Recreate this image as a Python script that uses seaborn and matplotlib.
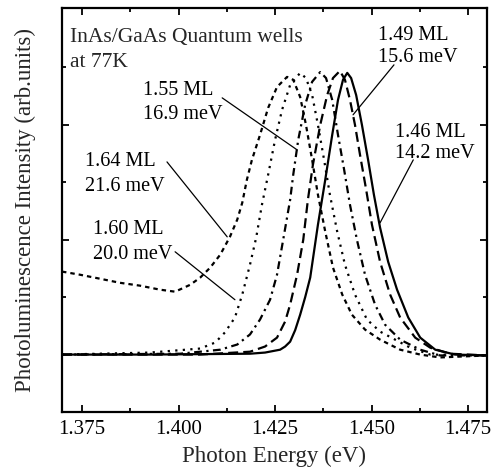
import matplotlib
matplotlib.use("Agg")
import matplotlib.pyplot as plt
import seaborn as sns
import numpy as np
from matplotlib.ticker import MultipleLocator

# ---- data (photon energy in eV, normalized PL intensity) ----
e_146 = [1.3698, 1.3926, 1.4185, 1.4224, 1.4263, 1.4276, 1.4289, 1.4302, 1.4315, 1.4328,
         1.4341, 1.4361, 1.4380, 1.4398,
         1.4413, 1.4426, 1.4437, 1.4447, 1.4460, 1.4475, 1.4491, 1.4506, 1.4522, 1.4543,
         1.4566, 1.4595, 1.4626, 1.4665, 1.4716, 1.4799]
i_146 = [0.000, 0.000, 0.003, 0.007, 0.017, 0.028, 0.045, 0.085, 0.139, 0.200,
         0.268, 0.452, 0.609, 0.765,
         0.887, 0.957, 0.981, 0.963, 0.904, 0.800, 0.678, 0.557, 0.442, 0.323,
         0.226, 0.129, 0.059, 0.017, 0.000, -0.003]

e_149 = [1.3698, 1.4056, 1.4185, 1.4224, 1.4255, 1.4276, 1.4289, 1.4307, 1.4323, 1.4335,
         1.4348, 1.4367, 1.4385, 1.4400, 1.4418, 1.4431, 1.4444, 1.4457, 1.4470, 1.4486,
         1.4501, 1.4522, 1.4548, 1.4574, 1.4613, 1.4652, 1.4703, 1.4799]
i_149 = [0.000, 0.000, 0.010, 0.028, 0.059, 0.115, 0.174, 0.278, 0.400, 0.539,
         0.661, 0.800, 0.904, 0.963, 0.988, 0.957, 0.887, 0.800, 0.696, 0.574,
         0.452, 0.323, 0.209, 0.129, 0.059, 0.024, 0.003, -0.003]

e_155 = [1.3698, 1.4004, 1.4108, 1.4152, 1.4185, 1.4211, 1.4237, 1.4255, 1.4271, 1.4289,
         1.4297, 1.4310, 1.4328, 1.4346, 1.4367, 1.4382, 1.4398, 1.4413, 1.4429, 1.4444,
         1.4462, 1.4483, 1.4509, 1.4535, 1.4574, 1.4626, 1.4677, 1.4799]
i_155 = [0.000, 0.003, 0.017, 0.035, 0.070, 0.122, 0.191, 0.278, 0.400, 0.539,
         0.626, 0.748, 0.870, 0.950, 0.984, 0.963, 0.887, 0.765, 0.643, 0.522,
         0.400, 0.278, 0.174, 0.104, 0.052, 0.017, -0.003, -0.003]

e_160 = [1.3698, 1.3926, 1.4056, 1.4095, 1.4120, 1.4146, 1.4165, 1.4185, 1.4201, 1.4216,
         1.4232, 1.4250, 1.4268, 1.4289, 1.4315, 1.4330, 1.4346, 1.4361, 1.4377, 1.4392,
         1.4411, 1.4431, 1.4457, 1.4488, 1.4522, 1.4561, 1.4600, 1.4652, 1.4799]
i_160 = [0.000, 0.007, 0.021, 0.042, 0.077, 0.129, 0.209, 0.313, 0.407, 0.522,
         0.626, 0.748, 0.852, 0.939, 0.981, 0.963, 0.904, 0.800, 0.678, 0.557,
         0.428, 0.313, 0.209, 0.122, 0.080, 0.052, 0.024, 0.000, -0.003]

e_164 = [1.3698, 1.3745, 1.3797, 1.3848, 1.3900, 1.3952, 1.3991, 1.4030, 1.4056, 1.4082,
         1.4108, 1.4133, 1.4152, 1.4165, 1.4177, 1.4190, 1.4211, 1.4232, 1.4255, 1.4281,
         1.4297, 1.4315, 1.4330, 1.4346, 1.4361, 1.4380, 1.4400, 1.4424, 1.4449, 1.4483,
         1.4522, 1.4574, 1.4626, 1.4677, 1.4799]
i_164 = [0.289, 0.278, 0.264, 0.250, 0.240, 0.226, 0.219, 0.243, 0.268, 0.303,
         0.348, 0.410, 0.470, 0.529, 0.609, 0.678, 0.765, 0.859, 0.932, 0.967,
         0.957, 0.897, 0.800, 0.678, 0.557, 0.428, 0.303, 0.209, 0.139, 0.087,
         0.052, 0.017, 0.000, -0.010, -0.003]

xticks = [1.375, 1.400, 1.425, 1.450, 1.475]
xtick_labels = ["1.375", "1.400", "1.425", "1.450", "1.475"]

# ---- style ----
sns.set_style("ticks")
plt.rcParams["font.family"] = ["Liberation Serif", "DejaVu Serif"]

fig = plt.figure(figsize=(4.95, 4.75), dpi=100)
ax = fig.add_axes([62/495, 1-412/475, (487-62)/495, (412-8)/475])

lw = 1.6
curves = [
    (e_164, i_164, (0, (2.0, 1.8))),
    (e_160, i_160, (0, (1.0, 2.4))),
    (e_155, i_155, (0, (3.5, 2.0, 1.0, 2.0))),
    (e_149, i_149, (0, (4.5, 2.3))),
    (e_146, i_146, "-"),
]
for e, i, ls in curves:
    sns.lineplot(x=e, y=i, ax=ax, color="black", linestyle=ls, linewidth=lw,
                 sort=False, estimator=None)

ax.set_xlim(1.3698, 1.4799)
ax.set_ylim(-0.2, 1.207)
ax.set_xticks(xticks)
ax.set_xticklabels(xtick_labels)
ax.xaxis.set_minor_locator(MultipleLocator(0.0125))
ax.set_yticks([0.4, 0.8])
ax.set_yticks([0.2, 0.6, 1.0], minor=True)
ax.set_yticklabels([])
ax.tick_params(which="both", direction="in", top=True, right=True, width=1.3, colors="black")
ax.tick_params(which="major", length=5, labelsize=15, pad=6)
ax.tick_params(which="minor", length=3)
for s in ax.spines.values():
    s.set_linewidth(1.6)
    s.set_color("black")

ax.set_xlabel("Photon Energy (eV)", fontsize=16.5, labelpad=5)
ax.set_ylabel("Photoluminescence Intensity (arb.units)", fontsize=16.5, labelpad=13)

fs = 14.5
txt = dict(fontsize=fs, ha="left", va="center", color="black")
ax.text(1.3719, 1.103, "InAs/GaAs Quantum wells", fontsize=15.5, ha="left", va="center")
ax.text(1.3719, 1.016, "at 77K", fontsize=15.5, ha="left", va="center")

labels = [
    ("1.55 ML", "16.9 meV", 1.3908, 0.918, 0.835, (1.4113, 0.894), (1.4307, 0.713)),
    ("1.64 ML", "21.6 meV", 1.3758, 0.674, 0.587, (1.3970, 0.671), (1.4126, 0.410)),
    ("1.60 ML", "20.0 meV", 1.3778, 0.435, 0.348, (1.3991, 0.358), (1.4146, 0.191)),
    ("1.49 ML", "15.6 meV", 1.4517, 1.110, 1.033, (1.4558, 1.009), (1.4452, 0.835)),
    ("1.46 ML", "14.2 meV", 1.4561, 0.772, 0.700, (1.4608, 0.678), (1.4522, 0.459)),
]
for l1, l2, x, y1, y2, p0, p1 in labels:
    ax.text(x, y1, l1, **txt)
    ax.text(x, y2, l2, **txt)
    ax.plot([p0[0], p1[0]], [p0[1], p1[1]], color="black", lw=0.9)

fig.savefig("out.png", dpi=100)
